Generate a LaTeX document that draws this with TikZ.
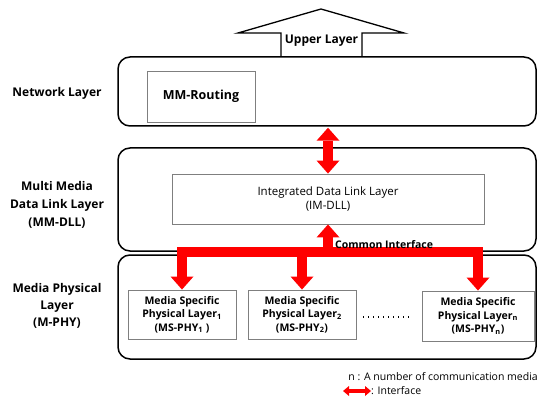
\documentclass[tikz,border=0pt]{standalone}
\usepackage{fontspec}
\setmainfont{Open Sans}
\usetikzlibrary{arrows.meta}
\definecolor{ifred}{HTML}{FF0000}
\definecolor{boxgray}{HTML}{7F7F7F}
\begin{document}
\begin{tikzpicture}[x=1pt,y=-1pt,
  layerbox/.style={draw=black, line width=1.5pt, rounded corners=12pt,
    minimum width=418pt, inner sep=0pt},
  unitbox/.style={draw=boxgray, line width=0.9pt, inner sep=0pt, align=center},
  layerlabel/.style={font=\fontsize{12}{17.5}\selectfont\bfseries, align=center},
  phybox/.style={unitbox, minimum height=49pt,
    font=\fontsize{10.5}{13.5}\selectfont\bfseries},
  ifarrow/.style={draw=ifred, line width=10pt, line join=miter,
    -{Triangle[width=23pt 0 0, length=13pt 0 0, line width=0pt]}},
  ifboth/.style={ifarrow,
    {Triangle[width=23pt 0 0, length=13pt 0 0, line width=0pt]}-{Triangle[width=23pt 0 0, length=13pt 0 0, line width=0pt]}}
]
\useasboundingbox (0,0) rectangle (538,398);

% arrow pointing to the upper layer
\draw[line width=1.3pt, line join=miter, fill=white]
  (281,57) -- (281,33) -- (238,33) -- (321,9) -- (404,33) -- (362,33) -- (362,57);
\node[font=\fontsize{12}{14}\selectfont\bfseries] (upper) at (321.5,41) {Upper Layer};

% layer containers
\node[layerbox, minimum height=69pt] (net) at (327,91.5) {};
\node[layerbox, minimum height=103pt] (dll) at (327,199.5) {};
\node[layerbox, minimum height=104pt] (phy) at (327,307) {};

% layer names
\node[layerlabel] (netlbl) at (57,93) {Network Layer};
\node[layerlabel, font=\fontsize{12}{18}\selectfont\bfseries] (dlllbl) at (57,205)
  {Multi Media\\Data Link Layer\\(MM-DLL)};
\node[layerlabel, font=\fontsize{12}{17}\selectfont\bfseries] (phylbl) at (57,306)
  {Media Physical\\Layer\\(M-PHY)};

% functional units
\node[unitbox, minimum width=108pt, minimum height=51pt,
  font=\fontsize{12.5}{15}\selectfont\bfseries] (route) at (201,96.5) {MM-Routing};
\node[unitbox, minimum width=312pt, minimum height=50pt,
  font=\fontsize{11.5}{14.5}\selectfont] (im) at (328,199)
  {Integrated Data Link Layer\\(IM-DLL)};
\node[phybox, minimum width=108pt] (b1) at (182,314.5)
  {Media Specific\\Physical Layer\textsubscript{1}\\(MS-PHY\textsubscript{1} )};
\node[phybox, minimum width=108pt] (b2) at (302,314.5)
  {Media Specific\\Physical Layer\textsubscript{2}\\(MS-PHY\textsubscript{2})};
\node[phybox, minimum width=112pt, minimum height=50pt] (bn) at (478,316)
  {Media Specific\\Physical Layer\textsubscript{n}\\(MS-PHY\textsubscript{n})};

% ellipsis between the physical layers
\coordinate (dotsA) at (363,317);
\coordinate (dotsB) at (410,317);
\draw[line width=1.1pt, dash pattern=on 1.1pt off 3.9pt] (dotsA) -- (dotsB);

% interfaces
\draw[ifboth] (net.south -| im.north) ++(0,1) -- (im.north);
\coordinate (bar) at (0,252);
\draw[ifarrow] (im.south |- bar) -- (im.south);
\draw[ifarrow] (im.south |- bar) -| (b1.north);
\draw[ifarrow] (im.south |- bar) -| (b2.north);
\draw[ifarrow] (im.south |- bar) -| (bn.north);
\node[anchor=west, inner sep=0pt, font=\fontsize{10.5}{12}\selectfont\bfseries]
  (common) at (335,245) {Common Interface};

% legend
\node[anchor=east, inner sep=0pt, font=\fontsize{10.5}{12}\selectfont]
  (note) at (538,377) {n : A number of communication media};
\coordinate (legA) at (343,391);
\coordinate (legB) at (371,391);
\draw[draw=ifred, line width=4pt,
  {Triangle[width=10pt 0 0, length=6pt 0 0, line width=0pt]}-{Triangle[width=10pt 0 0, length=6pt 0 0, line width=0pt]}]
  (legA) -- (legB);
\node[anchor=west, inner sep=0pt, font=\fontsize{10.5}{12}\selectfont]
  (legtext) at (371,391) {: Interface};
\end{tikzpicture}
\end{document}
